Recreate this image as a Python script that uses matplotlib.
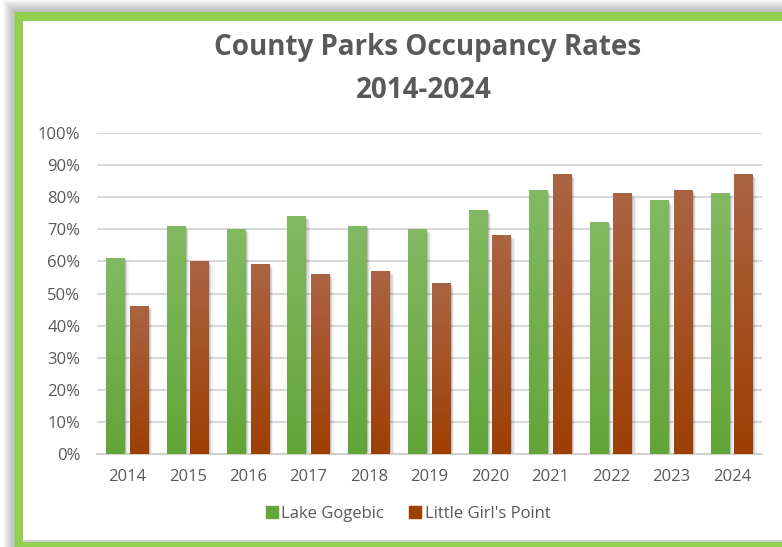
import numpy as np
import matplotlib
matplotlib.use("Agg")
import matplotlib.pyplot as plt
from matplotlib.patches import Rectangle
from matplotlib.lines import Line2D
import matplotlib.transforms as mtransforms
from matplotlib.colors import LinearSegmentedColormap

years = ["2014", "2015", "2016", "2017", "2018", "2019", "2020", "2021", "2022", "2023", "2024"]
lake_gogebic = [61, 71, 70, 74, 71, 70, 76, 82, 72, 79, 81]
little_girls_point = [46, 60, 59, 56, 57, 53, 68, 87, 81, 82, 87]
series_names = ["Lake Gogebic", "Little Girl's Point"]
title_lines = ["County Parks Occupancy Rates", "2014-2024"]

W, H = 782, 547
fig = plt.figure(figsize=(W / 100, H / 100), dpi=100)
fig.patch.set_facecolor("white")

def px_rect(x0, y0_img, x1, y1_img, **kw):
    # pixel coords with y from top
    return Rectangle((x0 / W, 1 - y1_img / H), (x1 - x0) / W, (y1_img - y0_img) / H,
                     transform=fig.transFigure, **kw)

# outer shadow
for i in range(1, 13):
    fig.add_artist(px_rect(15 - i, 12 - i, 820, 570, facecolor="#808080", edgecolor="none",
                           alpha=0.05, zorder=0))
# green frame
fig.add_artist(px_rect(15, 12, 820, 570, facecolor="#92D050", edgecolor="none", zorder=1))
fig.add_artist(px_rect(23, 21, 820, 542, facecolor="white", edgecolor="none", zorder=2))
fig.add_artist(px_rect(23, 540, 820, 542, facecolor="#D0D0D0", edgecolor="none", zorder=2))

font = "Open Sans"
gray = "#595959"

ax = fig.add_axes([97 / W, 1 - 454 / H, (762 - 97) / W, (454 - 133) / H])
ax.set_zorder(5)
ax.patch.set_alpha(0)

x = np.arange(len(years))
bw = 0.31
gap = 0.08
off = (bw + gap) / 2

green_cmap = LinearSegmentedColormap.from_list("g", ["#62A537", "#82B962"])
orange_cmap = LinearSegmentedColormap.from_list("o", ["#9E3F03", "#AB6443"])

def draw_series(xs, vals, cmap):
    grad = np.linspace(0, 1, 256).reshape(-1, 1)
    for xi, v in zip(xs, vals):
        h = v / 100
        for k, a in [(1, 0.14), (2, 0.09), (3, 0.05)]:
            sh = mtransforms.ScaledTranslation(k * 0.9 / 72, -k * 0.9 / 72, fig.dpi_scale_trans)
            ax.add_patch(Rectangle((xi - bw / 2, 0), bw, h, transform=ax.transData + sh,
                                   facecolor="black", edgecolor="none", alpha=a, zorder=2))
        ax.imshow(grad, extent=(xi - bw / 2, xi + bw / 2, 0, h), origin="lower",
                  cmap=cmap, aspect="auto", zorder=3, interpolation="bilinear")

draw_series(x - off, lake_gogebic, green_cmap)
draw_series(x + off, little_girls_point, orange_cmap)

ax.set_xlim(-0.5, len(years) - 0.5)
ax.set_ylim(0, 1.0)
ax.set_yticks(np.arange(0, 1.01, 0.1))
ax.set_yticklabels([f"{int(round(t * 100))}%" for t in np.arange(0, 1.01, 0.1)])
ax.set_xticks(x)
ax.set_xticklabels(years)
for lbl in ax.get_xticklabels() + ax.get_yticklabels():
    lbl.set_fontfamily(font)
    lbl.set_fontsize(12)
    lbl.set_color(gray)
ax.tick_params(axis="both", length=0)
ax.tick_params(axis="x", pad=11)
ax.tick_params(axis="y", pad=12)
for s in ["top", "right", "left"]:
    ax.spines[s].set_visible(False)
ax.spines["bottom"].set_color("#D0D0D0")
ax.spines["bottom"].set_linewidth(1.5)
ax.grid(axis="y", color="#D9D9D9", linewidth=1.5, zorder=0)
ax.set_axisbelow(True)

fig.text(428 / W, 1 - 47 / H, title_lines[0], ha="center", va="center", fontsize=20,
         fontweight="bold", color=gray, family=font)
fig.text(424 / W, 1 - 91 / H, title_lines[1], ha="center", va="center", fontsize=20,
         fontweight="bold", color=gray, family=font)

handles = [Line2D([], [], marker="s", linestyle="none", markersize=8, color="#64A63A"),
           Line2D([], [], marker="s", linestyle="none", markersize=8, color="#A04000")]
leg = fig.legend(handles, series_names, loc="center", bbox_to_anchor=(407 / W, 1 - 514 / H),
                 ncol=2, frameon=False, prop={"family": font, "size": 12}, handletextpad=0.05,
                 columnspacing=1.4, handlelength=1.0)
for t in leg.get_texts():
    t.set_color(gray)
leg.set_zorder(10)

fig.savefig("out.png", dpi=100)
